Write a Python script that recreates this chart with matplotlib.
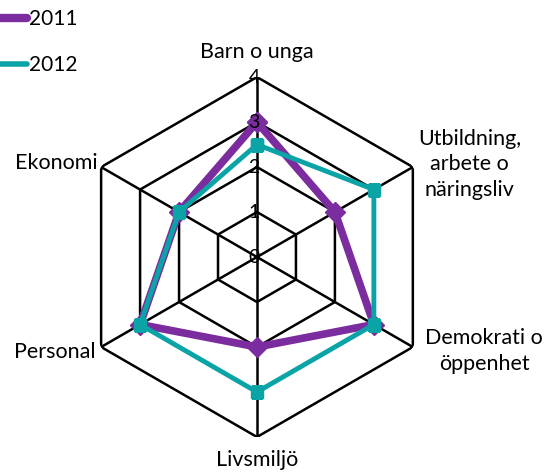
import numpy as np
import matplotlib.pyplot as plt
from matplotlib.lines import Line2D

plt.rcParams['font.family'] = ['Lato', 'DejaVu Sans']

categories = ['Barn o unga', 'Utbildning,\narbete o\nnäringsliv', 'Demokrati o\nöppenhet',
              'Livsmiljö', 'Personal', 'Ekonomi']
values_2011 = [3, 2, 3, 2, 3, 2]
values_2012 = [2.5, 3, 3, 3, 3, 2]
levels = [0, 1, 2, 3, 4]

purple = '#7B2C9E'
teal = '#0AA3A6'

n = len(categories)
theta = np.arange(n) * 2 * np.pi / n
theta_c = np.append(theta, theta[0])

fig = plt.figure(figsize=(5.47, 4.73), dpi=100)
ax = fig.add_axes([0.1408, 0.0761, 0.658, 0.761], projection='polar')
ax.set_theta_offset(np.pi / 2)
ax.set_theta_direction(-1)
ax.set_ylim(0, 4)
ax.grid(False)
ax.spines['polar'].set_visible(False)
ax.set_xticks([])
ax.set_yticks([])
ax.patch.set_visible(False)

# hexagon grid + spokes
for lv in levels[1:]:
    ax.plot(theta_c, [lv] * (n + 1), color='black', lw=1.8, zorder=1)
for t in theta:
    ax.plot([t, t], [0, 4], color='black', lw=1.8, zorder=1)

# series
ax.plot(theta_c, values_2011 + values_2011[:1], color=purple, lw=5.5,
        marker='D', markersize=10, zorder=3, solid_joinstyle='miter')
ax.plot(theta_c, values_2012 + values_2012[:1], color=teal, lw=3.5,
        marker='s', markersize=8.5, zorder=4, solid_joinstyle='miter')

# radial tick labels
for lv in levels:
    ax.annotate(str(lv), (0, lv), xytext=(2, 0), textcoords='offset points',
                ha='right', va='center', fontsize=14, zorder=5)

# category labels
label_pos = [
    (0.470, 0.890, 'center'),
    (0.859, 0.653, 'center'),
    (0.885, 0.258, 'center'),
    (0.470, 0.027, 'center'),
    (0.174, 0.256, 'right'),
    (0.178, 0.655, 'right'),
]
for name, (x, y, ha) in zip(categories, label_pos):
    fig.text(x, y, name, ha=ha, va='center', fontsize=15.5, linespacing=1.35)

handles = [Line2D([], [], color=purple, lw=6, solid_capstyle='round'),
           Line2D([], [], color=teal, lw=4, solid_capstyle='round')]
fig.legend(handles, ['2011', '2012'], loc='upper left', bbox_to_anchor=(-0.035, 1.02),
           frameon=False, fontsize=15, handlelength=1.3, handletextpad=0.1,
           labelspacing=1.25)

fig.savefig('out.png', dpi=100)
